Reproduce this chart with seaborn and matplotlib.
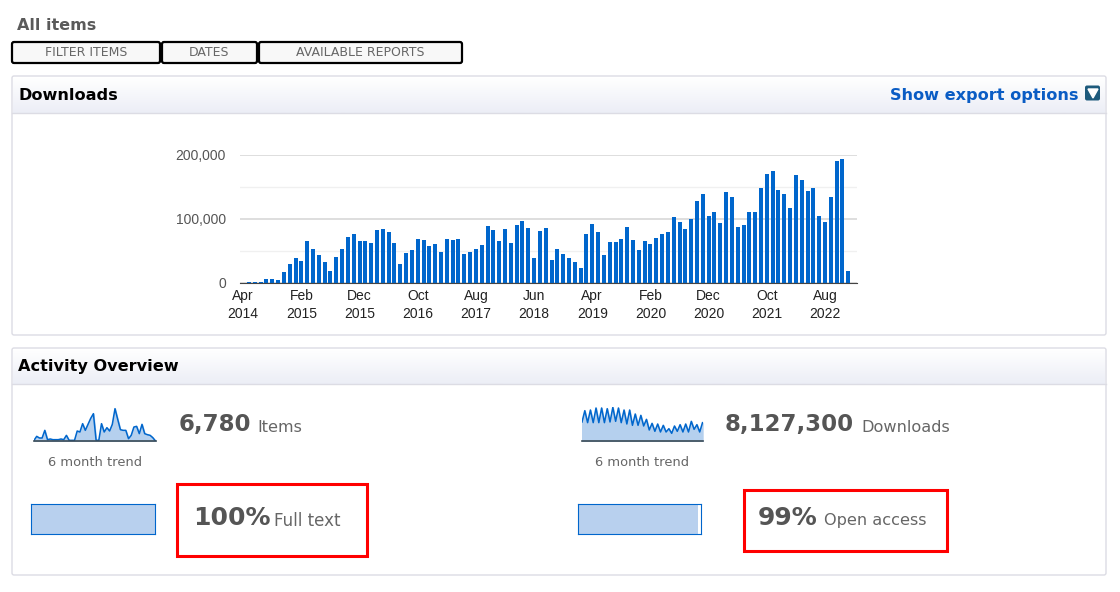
import numpy as np
import pandas as pd
import matplotlib.pyplot as plt
import seaborn as sns
from matplotlib.patches import Rectangle, FancyBboxPatch
from matplotlib.colors import LinearSegmentedColormap

# 1. Data
# Downloads per month, Apr 2014 onwards, in thousands
downloads = [0.3, 0.8, 1.6, 1.6, 6.8, 6.8, 5.2, 17.3, 29.8, 39.8, 35.1, 66, 52.4, 43.5, 33,
             19.4, 41.4, 53.9, 71.2, 75.9, 66, 66, 62.8, 83.3, 84.8, 79.6, 62.8, 29.8, 47.1,
             51.8, 69.1, 67.5, 57.6, 60.7, 48.7, 69.1, 67.5, 69.1, 45, 48.7, 53.9, 58.6, 88.5,
             83.3, 66, 84.8, 62.3, 90, 96.9, 86.4, 39.8, 81.7, 86.4, 36.7, 53.4, 45, 39.8, 33,
             24.1, 75.9, 91.6, 79.6, 43.5, 64.4, 64.4, 69.1, 88, 67.5, 51.8, 66, 60.7, 70.7,
             75.9, 79.6, 103.7, 95.3, 84.8, 100.5, 127.8, 139.8, 105.2, 110.5, 93.2, 141.9,
             135.1, 88, 90, 110.5, 110.5, 148.7, 169.6, 174.9, 145, 139.8, 117.8, 168.1, 160.7,
             143.5, 148.7, 105.2, 95.3, 135.1, 190, 193.2, 18.8]
tick_labels = ['Apr\n2014', 'Feb\n2015', 'Dec\n2015', 'Oct\n2016', 'Aug\n2017', 'Jun\n2018',
               'Apr\n2019', 'Feb\n2020', 'Dec\n2020', 'Oct\n2021', 'Aug\n2022']

# 6 month trend lines, relative height
items_trend = [2, 14, 9, 9, 32, 4, 6, 4, 4, 4, 6, 4, 17, 2, 2, 2, 30, 27, 52, 32, 50, 68, 82, 2, 2,
               52, 27, 40, 30, 50, 97, 65, 34, 32, 32, 7, 17, 42, 44, 22, 50, 22, 19, 17, 10, 0]
downloads_trend = [57, 91, 55, 93, 55, 99, 55, 99, 55, 97, 57, 101, 59, 99, 55, 93, 51, 93, 47, 81,
                   47, 77, 45, 65, 33, 53, 29, 51, 27, 47, 27, 37, 23, 45, 29, 49, 27, 51, 27, 59,
                   35, 49, 27, 55]

# 2. Page (pixels, origin top left)
fig = plt.figure(figsize=(11.2, 5.92), dpi=100)
page = fig.add_axes([0, 0, 1, 1])
page.axis('off')

grad = np.linspace(0, 1, 32).reshape(-1, 1)
head_map = LinearSegmentedColormap.from_list('head', ['#ffffff', '#eceef6'])
for top, bottom, head in [(76, 335, 113), (348, 575, 384)]:
    page.add_patch(FancyBboxPatch((12, top), 1094, bottom - top, boxstyle='round,pad=0,rounding_size=2',
                                  fc='white', ec='#dcdce4', lw=1))
    page.imshow(grad, extent=(13, 1105, head, top + 1), cmap=head_map, aspect='auto', zorder=2)
    page.plot([12, 1106], [head, head], color='#dcdce4', lw=1, zorder=3)
page.set_xlim(0, 1120)
page.set_ylim(592, 0)

page.text(17, 26, 'All items', fontsize=11.5, fontweight='bold', color='#5a5a5a', va='center')
for x0, x1, label in [(12, 160, 'FILTER ITEMS'), (162, 257, 'DATES'), (259, 462, 'AVAILABLE REPORTS')]:
    page.add_patch(FancyBboxPatch((x0, 42), x1 - x0, 21, boxstyle='round,pad=0,rounding_size=2',
                                  fc='#f8f8f8', ec='black', lw=1.6))
    page.text((x0 + x1) / 2, 53, label, fontsize=9, color='#666666', ha='center', va='center')

page.text(18, 95.5, 'Downloads', fontsize=11.6, fontweight='bold', color='black', va='center', zorder=4)
page.text(1079, 95.5, 'Show export options', fontsize=11.6, fontweight='bold', color='#0a5cc4',
          ha='right', va='center', zorder=4)
page.add_patch(FancyBboxPatch((1085, 85.5), 15, 15, boxstyle='round,pad=0,rounding_size=2',
                              fc='#1d5a7c', ec='none', zorder=4))
page.fill([1088, 1098, 1093], [89, 89, 98], color='white', zorder=5)
page.text(18, 366.5, 'Activity Overview', fontsize=11.6, fontweight='bold', color='black', va='center', zorder=4)

# big numbers and captions
page.text(179, 424, '6,780', fontsize=16.5, fontweight='bold', color='#555555', va='center')
page.text(257, 427, 'Items', fontsize=11.6, color='#666666', va='center')
page.text(725, 424, '8,127,300', fontsize=16.5, fontweight='bold', color='#555555', va='center')
page.text(861, 427, 'Downloads', fontsize=11.6, color='#666666', va='center')
page.text(193, 518, '100%', fontsize=18, fontweight='bold', color='#555555', va='center')
page.text(274, 521, 'Full text', fontsize=12, color='#666666', va='center')
page.text(758, 518, '99%', fontsize=18, fontweight='bold', color='#555555', va='center')
page.text(824, 521, 'Open access', fontsize=11.6, color='#666666', va='center')
page.text(95, 463, '6 month trend', fontsize=9.4, color='#666666', ha='center', va='center')
page.text(642, 463, '6 month trend', fontsize=9.4, color='#666666', ha='center', va='center')

# red boxes
page.add_patch(Rectangle((176.5, 483.7), 190, 72, fc='none', ec='#ff0000', lw=2.2))
page.add_patch(Rectangle((743.5, 489.7), 203, 61, fc='none', ec='#ff0000', lw=2.2))

# 3. Downloads bars
ax = fig.add_axes([240 / 1120, 1 - 283 / 592, 617 / 1120, 128 / 592])
months = np.arange(len(downloads))
sns.barplot(x=months, y=np.array(downloads) * 1000, color='#0066cc', saturation=1, width=0.68,
            native_scale=True, ax=ax)
ax.set_xlim(-0.55, 105.5)
ax.set_ylim(0, 200000)
ax.set_yticks([0, 100000, 200000])
ax.set_yticklabels(['0', '100,000', '200,000'], fontsize=10, family='Liberation Sans', color='#555555')
ax.set_yticks([50000, 150000], minor=True)
ax.set_xticks(months[::10])
ax.set_xticklabels(tick_labels, fontsize=10, family='Liberation Sans', color='#222222', linespacing=1.35)
ax.tick_params(length=0, which='both')
ax.tick_params(axis='y', pad=10)
ax.tick_params(axis='x', pad=4.5)
ax.grid(axis='y', which='major', color='#d8d8d8', lw=1.2)
ax.grid(axis='y', which='minor', color='#f0f0f0', lw=1)
ax.set_axisbelow(True)
ax.set_xlabel('')
ax.set_ylabel('')
sns.despine(ax=ax, left=True)
ax.spines['bottom'].set_color('#444444')

# 4. Sparklines
ax = fig.add_axes([34 / 1120, 1 - 441 / 592, 121.5 / 1120, 34 / 592])
x = np.arange(len(items_trend))
ax.fill_between(x, items_trend, color='#b5d0ee')
sns.lineplot(x=x, y=items_trend, color='#0066cc', lw=1.1, ax=ax)
ax.set_xlim(0, len(items_trend) - 1)
ax.set_ylim(0, 102)
ax.axhline(0, color='#3a4a55', lw=1.2, clip_on=False)
ax.axis('off')

ax = fig.add_axes([582 / 1120, 1 - 441 / 592, 120.5 / 1120, 34 / 592])
x = np.arange(len(downloads_trend))
ax.fill_between(x, downloads_trend, color='#b5d0ee')
sns.lineplot(x=x, y=downloads_trend, color='#0066cc', lw=1.1, ax=ax)
ax.set_xlim(0, len(downloads_trend) - 1)
ax.set_ylim(0, 102)
ax.axhline(0, color='#3a4a55', lw=1.2, clip_on=False)
ax.axis('off')

# 5. Percent bars
ax = fig.add_axes([31 / 1120, 1 - 533.5 / 592, 124 / 1120, 29.5 / 592])
sns.barplot(x=[100], y=[0], orient='h', color='#b8d0ee', saturation=1, width=1, ax=ax)
ax.set_xlim(0, 100)
ax.set(xticks=[], yticks=[], xlabel='', ylabel='')
for s in ax.spines.values():
    s.set_color('#0066cc')

ax = fig.add_axes([578 / 1120, 1 - 533.5 / 592, 122.5 / 1120, 29.5 / 592])
sns.barplot(x=[98], y=[0], orient='h', color='#b8d0ee', saturation=1, width=1, ax=ax)
ax.set_xlim(0, 100)
ax.set(xticks=[], yticks=[], xlabel='', ylabel='')
for s in ax.spines.values():
    s.set_color('#0066cc')

plt.savefig('out.png', dpi=100)
